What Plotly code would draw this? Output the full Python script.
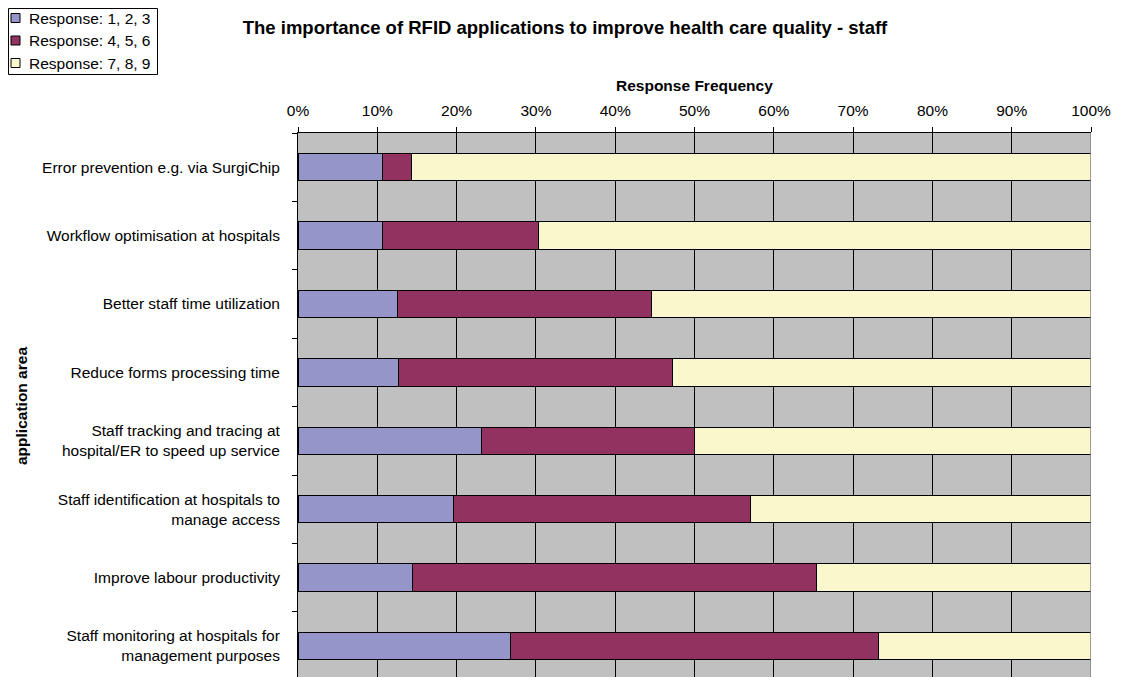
import plotly.graph_objects as go

categories = [
    "Error prevention e.g. via SurgiChip",
    "Workflow optimisation at hospitals",
    "Better staff time utilization",
    "Reduce forms processing time",
    "Staff tracking and tracing at<br>hospital/ER to speed up service",
    "Staff identification at hospitals to<br>manage access",
    "Improve labour productivity",
    "Staff monitoring at hospitals for<br>management purposes",
]
resp_123 = [10.7, 10.7, 12.5, 12.7, 23.2, 19.6, 14.5, 26.8]
resp_456 = [3.6, 19.6, 32.1, 34.5, 26.8, 37.5, 50.9, 46.4]
resp_789 = [85.7, 69.7, 55.4, 52.8, 50.0, 42.9, 34.6, 26.8]
series_names = ["Response: 1, 2, 3", "Response: 4, 5, 6", "Response: 7, 8, 9"]
colors = ["#9595C9", "#913260", "#FAF7CC"]
x_ticks = [0, 10, 20, 30, 40, 50, 60, 70, 80, 90, 100]

FONT = "Liberation Sans, Arial, sans-serif"
W, H = 1124, 677
L, R, T, B = 290, 41, 125, 0
PW, PH = W - L - R, H - T - B


def px2paper_x(px):
    return (px - L) / PW


def px2paper_y(py):
    return 1 - (py - T) / PH


fig = go.Figure()
for name, vals, col in zip(series_names, [resp_123, resp_456, resp_789], colors):
    fig.add_trace(go.Bar(
        y=categories, x=vals, name=name, orientation="h",
        marker=dict(color=col, line=dict(color="black", width=1)),
        showlegend=False,
    ))

shapes = []
annotations = []
# plot-area right border (grey, as in the reference)
shapes.append(dict(type="line", xref="x", yref="paper", x0=x_ticks[-1], x1=x_ticks[-1],
                   y0=0, y1=1, line=dict(color="#808080", width=1.5), layer="above"))
# legend box
shapes.append(dict(type="rect", xref="paper", yref="paper",
                   x0=px2paper_x(0.5), x1=px2paper_x(149.5),
                   y0=px2paper_y(0.5), y1=px2paper_y(66.5),
                   line=dict(color="black", width=1), fillcolor="white", layer="above"))
row_y = [10, 32.5, 55]
for name, col, ry in zip(series_names, colors, row_y):
    shapes.append(dict(type="rect", xref="paper", yref="paper",
                       x0=px2paper_x(3), x1=px2paper_x(12),
                       y0=px2paper_y(ry - 4.5), y1=px2paper_y(ry + 4.5),
                       line=dict(color="black", width=1), fillcolor=col, layer="above"))
    annotations.append(dict(text=name, xref="paper", yref="paper",
                            x=px2paper_x(19), y=px2paper_y(ry),
                            xanchor="left", yanchor="middle", showarrow=False,
                            font=dict(size=15.5, family=FONT, color="black")))

# axis titles
annotations.append(dict(text="<b>Response Frequency</b>", xref="paper", yref="paper",
                        x=0.5, y=px2paper_y(78), xanchor="center", yanchor="middle",
                        showarrow=False, font=dict(size=15.5, family=FONT, color="black")))
annotations.append(dict(text="<b>application area</b>", xref="paper", yref="paper",
                        x=px2paper_x(13), y=px2paper_y(398), xanchor="center", yanchor="middle",
                        textangle=-90, showarrow=False,
                        font=dict(size=15.5, family=FONT, color="black")))

fig.update_layout(
    barmode="stack",
    bargap=0.6,
    width=W, height=H,
    margin=dict(l=L, r=R, t=T, b=B, autoexpand=False),
    paper_bgcolor="white",
    plot_bgcolor="#C0C0C0",
    font=dict(family=FONT, size=15.5, color="black"),
    showlegend=False,
    title=dict(
        text="<b>The importance of RFID applications to improve health care quality - staff</b>",
        x=557 / W, xanchor="center", xref="container",
        y=1 - 20 / H, yanchor="middle", yref="container",
        font=dict(size=18.5, family=FONT),
    ),
    xaxis=dict(
        side="top",
        range=[0, 100],
        tickvals=x_ticks,
        ticktext=[f"{v}%" for v in x_ticks],
        ticks="outside", ticklen=5, tickcolor="black",
        showgrid=True, gridcolor="black", gridwidth=1,
        showline=True, linecolor="black", linewidth=1,
        zeroline=False,
        automargin=False,
        tickfont=dict(size=15.5),
        ticklabelstandoff=5,
    ),
    yaxis=dict(
        autorange=False,
        range=[7.57, -0.5],
        ticks="outside", ticklen=5, tickcolor="black",
        tickson="boundaries",
        showline=True, linecolor="black", linewidth=1,
        showgrid=False,
        automargin=False,
        tickfont=dict(size=15.5),
        ticklabelstandoff=14,
    ),
    shapes=shapes,
    annotations=annotations,
)

fig.write_html("out.html")
